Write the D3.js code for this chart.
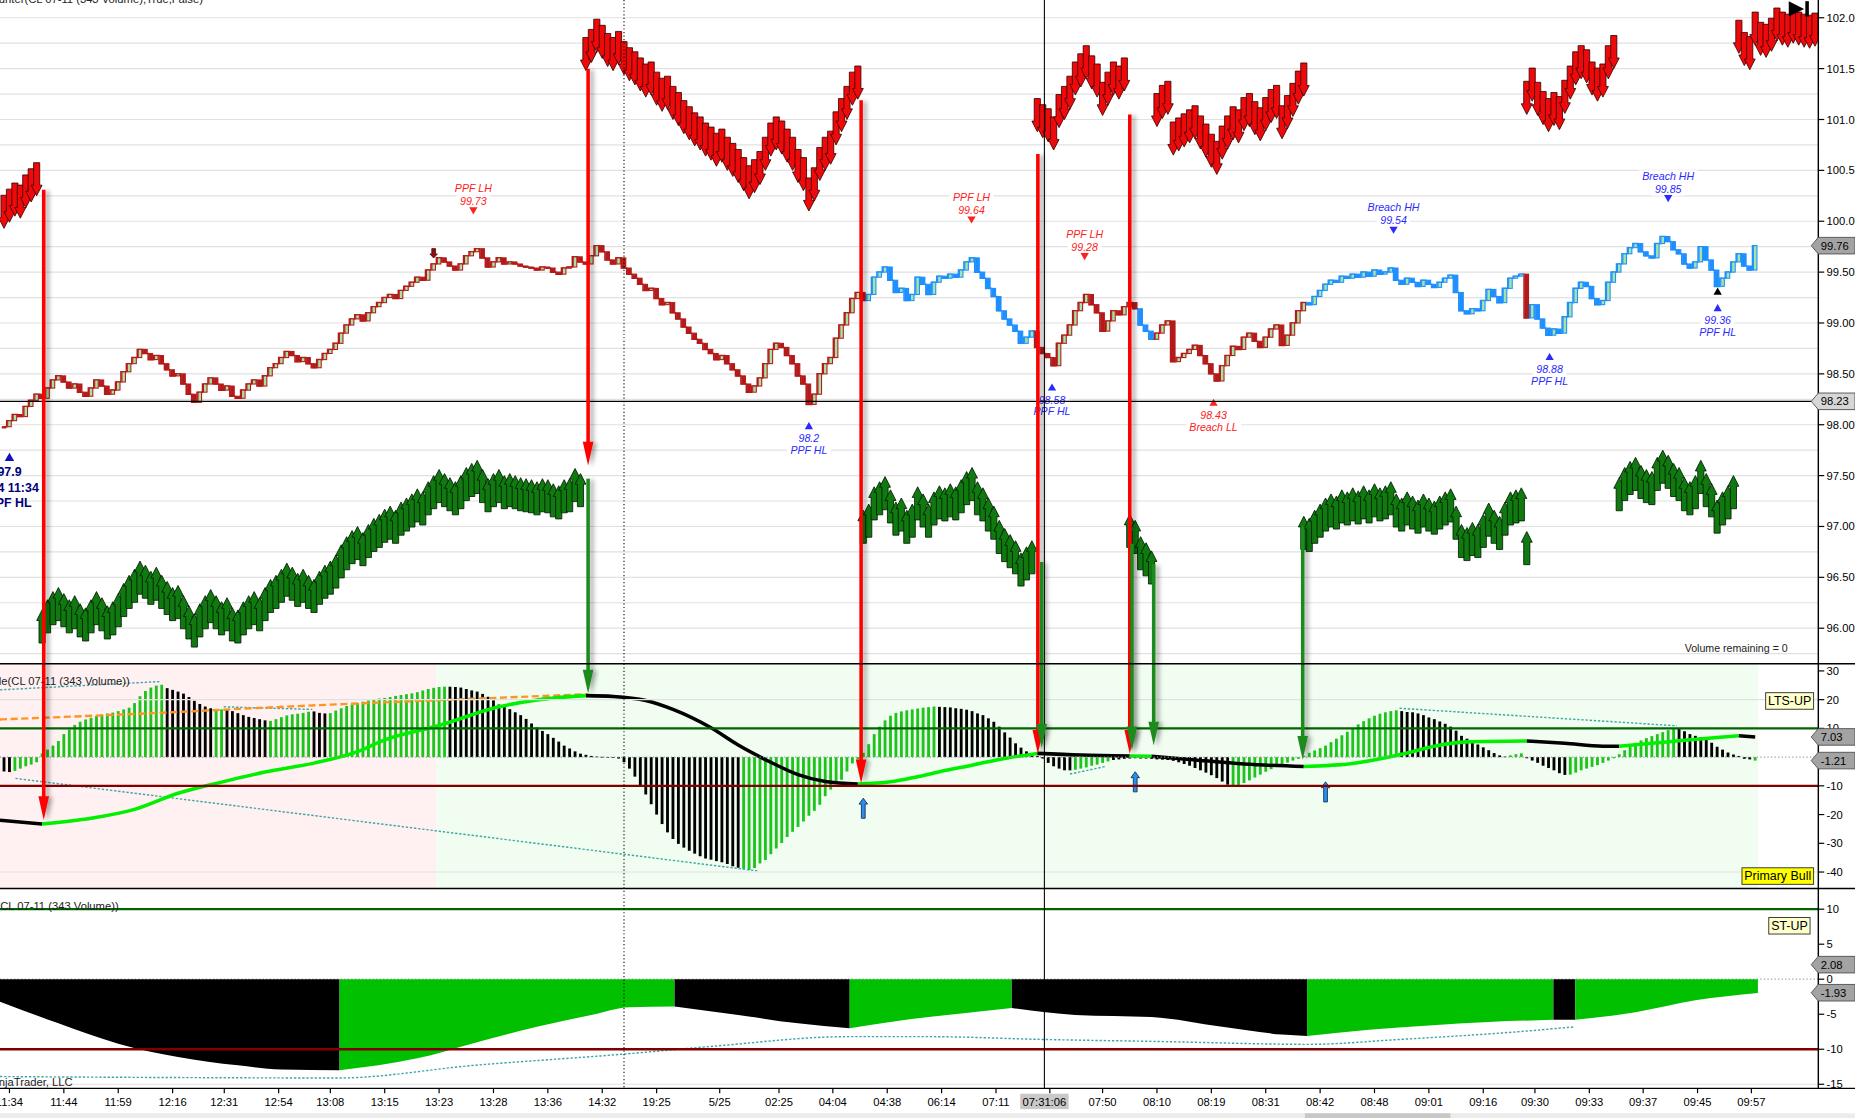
<!DOCTYPE html>
<html>
<head>
<meta charset="utf-8">
<script src="https://cdn.jsdelivr.net/npm/d3@7"></script>
<style>
  html, body { margin: 0; padding: 0; background: #fff; overflow: hidden; }
  svg { display: block; font-family: "Liberation Sans", Arial, sans-serif; }
</style>
</head>
<body>
<div id="chart"></div>
<script>
// ---- data (bar index based) ----
var closes = [
  97.98, 98.04, 98.10, 98.08, 98.18, 98.24, 98.30, 98.26, 98.36, 98.44,
  98.48, 98.42, 98.36, 98.40, 98.32, 98.28, 98.36, 98.44, 98.38, 98.30,
  98.34, 98.42, 98.52, 98.60, 98.66, 98.74, 98.70, 98.64, 98.68, 98.60,
  98.54, 98.48, 98.50, 98.40, 98.30, 98.22, 98.32, 98.40, 98.46, 98.40,
  98.34, 98.38, 98.28, 98.26, 98.34, 98.40, 98.44, 98.38, 98.48, 98.56,
  98.60, 98.66, 98.72, 98.68, 98.62, 98.66, 98.60, 98.56, 98.64, 98.70,
  98.74, 98.80, 98.90, 98.98, 99.04, 99.08, 99.02, 99.10, 99.16, 99.20,
  99.25, 99.28, 99.24, 99.32, 99.36, 99.40, 99.45, 99.42, 99.52, 99.58,
  99.64, 99.60, 99.56, 99.52, 99.58, 99.66, 99.70, 99.73, 99.64, 99.55,
  99.60, 99.64, 99.58, 99.60, 99.58, 99.56, 99.55, 99.54, 99.52, 99.55,
  99.54, 99.50, 99.48, 99.54, 99.55, 99.65, 99.60, 99.58, 99.66, 99.76,
  99.70, 99.62, 99.58, 99.64, 99.54, 99.48, 99.44, 99.38, 99.32, 99.34,
  99.24, 99.18, 99.20, 99.10, 99.04, 98.96, 98.90, 98.84, 98.80, 98.74,
  98.70, 98.64, 98.68, 98.60, 98.54, 98.48, 98.40, 98.32, 98.38, 98.46,
  98.60, 98.74, 98.80, 98.76, 98.68, 98.60, 98.48, 98.40, 98.20, 98.30,
  98.50, 98.60, 98.66, 98.85, 98.98, 99.10, 99.24, 99.30, 99.22, 99.28,
  99.45, 99.50, 99.55, 99.42, 99.30, 99.34, 99.22, 99.28, 99.45, 99.38,
  99.28, 99.40, 99.46, 99.44, 99.48, 99.45, 99.52, 99.60, 99.64, 99.50,
  99.44, 99.34, 99.26, 99.12, 99.04, 98.98, 98.92, 98.80, 98.86, 98.92,
  98.76, 98.70, 98.66, 98.58, 98.80, 98.88, 98.98, 99.12, 99.20, 99.28,
  99.18, 99.10, 98.92, 99.02, 99.12, 99.08, 99.16, 99.20, 99.14, 98.98,
  98.92, 98.84, 98.90, 98.98, 99.02, 98.62, 98.66, 98.70, 98.74, 98.78,
  98.68, 98.60, 98.50, 98.43, 98.58, 98.68, 98.77, 98.74, 98.86, 98.90,
  98.82, 98.76, 98.86, 98.94, 98.98, 98.78, 98.88, 99.00, 99.12, 99.20,
  99.18, 99.26, 99.32, 99.38, 99.42, 99.40, 99.46, 99.44, 99.48, 99.45,
  99.50, 99.46, 99.52, 99.48, 99.50, 99.54, 99.42, 99.38, 99.44, 99.40,
  99.36, 99.42, 99.38, 99.35, 99.40, 99.44, 99.47, 99.30, 99.12, 99.09,
  99.14, 99.12, 99.22, 99.33, 99.26, 99.20, 99.34, 99.44, 99.46, 99.48,
  99.05, 99.18, 99.04, 98.95, 98.88, 98.94, 98.90, 99.06, 99.20, 99.34,
  99.40, 99.36, 99.24, 99.18, 99.22, 99.40, 99.50, 99.58, 99.68, 99.74,
  99.78, 99.70, 99.66, 99.64, 99.78, 99.85, 99.80, 99.72, 99.68, 99.58,
  99.54, 99.60, 99.75, 99.62, 99.52, 99.36, 99.44, 99.50, 99.60, 99.68,
  99.56, 99.52, 99.76
];
// bars right of the last drawn price, only seen through their arrows
var hiddenTail = [99.66, 99.64, 99.70, 99.80, 99.76, 99.74, 99.78, 99.76, 99.74, 99.73, 99.75];

// price bar colouring: [from, to, trend]
var trendRuns = [[0, 158, 'bear'], [159, 189, 'bull'], [190, 208, 'bear'], [209, 211, 'bull'],
                 [212, 239, 'bear'], [240, 279, 'bull'], [280, 280, 'bear'], [281, 322, 'bull']];

// arrow clusters: [from, to (excl.), side, offset in price units]
var arrowRuns = [[0, 7, 'sell', 1.95], [7, 107, 'buy', 2.08], [107, 158, 'sell', 1.9],
                 [158, 190, 'buy', 2.06], [190, 207, 'sell', 2.12], [207, 212, 'buy', 2.08],
                 [212, 240, 'sell', 2.03], [239, 281, 'buy', 2.1], [280, 297, 'sell', 2.0],
                 [297, 319, 'buy', 2.1], [319, 334, 'sell', 1.97]];

var histValues = [
  -5.0, -5.2, -4.8, -4.0, -3.2, -2.6, -1.8, 1.3, 2.6, 4.0,
  5.6, 8.0, 9.6, 11.2, 12.3, 13.1, 13.7, 14.3, 14.8, 15.2,
  15.5, 16.0, 16.6, 17.2, 18.8, 21.2, 23.0, 24.2, 24.9, 25.2,
  24.0, 23.4, 22.8, 22.1, 20.9, 19.6, 18.5, 17.6, 17.0, 16.8,
  16.6, 16.4, 16.0, 15.3, 14.6, 14.0, 13.6, 13.2, 12.8, 12.6,
  13.2, 13.9, 14.5, 14.9, 15.1, 15.4, 15.8, 15.9, 15.4, 15.2,
  15.3, 16.2, 17.0, 17.8, 18.3, 18.8, 19.3, 19.7, 20.1, 20.4,
  20.6, 20.9, 21.3, 21.6, 21.9, 22.2, 22.6, 23.2, 23.7, 24.1,
  24.4, 24.5, 24.5, 24.4, 24.2, 23.7, 23.2, 22.8, 22.0, 21.0,
  19.8, 18.3, 17.7, 16.7, 15.6, 14.6, 13.3, 11.7, 10.3, 9.1,
  8.0, 6.7, 5.4, 4.0, 3.0, 2.0, 1.2, 0.8, 0.4, 0.2,
  0.1, 0.0, 0.0, -0.5, -1.8, -4.0, -6.8, -9.9, -13.0, -16.4,
  -20.0, -23.3, -26.2, -28.5, -30.2, -31.5, -32.6, -33.6, -34.5, -35.3,
  -35.7, -36.2, -36.6, -37.2, -38.0, -38.5, -38.9, -39.3, -38.6, -37.0,
  -35.8, -33.8, -31.8, -29.9, -27.8, -26.0, -24.3, -22.4, -20.4, -18.7,
  -16.6, -13.6, -11.3, -9.2, -7.9, -5.0, -2.2, -0.8, 1.5, 4.5,
  8.0, 10.6, 12.8, 14.4, 15.4, 15.9, 16.3, 16.6, 16.9, 17.2,
  17.4, 17.6, 17.5, 17.4, 17.3, 17.0, 16.8, 16.5, 16.0, 15.2,
  14.6, 13.5, 12.3, 10.6, 8.6, 6.8, 4.8, 3.3, 2.0, 1.0,
  0.4, -0.5, -2.0, -3.2, -4.0, -4.6, -4.6, -4.4, -4.0, -3.6,
  -3.0, -2.6, -2.0, -1.5, -1.0, -0.8, -0.6, -0.5, -0.4, -0.5,
  -0.5, -0.6, -0.8, -0.9, -1.0, -1.3, -1.8, -2.4, -3.0, -3.8,
  -4.6, -5.4, -6.3, -7.3, -8.5, -9.6, -10.0, -9.8, -9.0, -8.1,
  -7.1, -6.1, -5.1, -4.2, -3.4, -2.6, -1.9, -1.2, -0.6, 0.5,
  1.5, 2.3, 3.1, 4.0, 5.2, 6.4, 7.6, 8.8, 10.1, 11.4,
  12.5, 13.5, 14.4, 15.1, 15.6, 16.0, 16.3, 16.0, 15.7, 15.6,
  15.2, 14.6, 13.8, 13.2, 12.4, 11.6, 10.6, 9.2, 7.4, 6.4,
  5.4, 4.4, 3.4, 2.4, 1.4, 0.6, 0.2, 0.6, 1.0, 1.3,
  -0.4, -1.2, -2.0, -3.0, -3.8, -4.6, -5.6, -6.2, -6.1, -5.4,
  -4.6, -4.0, -3.4, -2.8, -2.0, -1.2, -0.4, 1.0, 2.4, 3.8,
  4.8, 5.8, 6.6, 7.3, 8.0, 8.7, 9.4, 10.0, 10.1, 9.0,
  8.0, 7.4, 6.9, 6.4, 5.0, 3.6, 2.6, 1.6, 0.9, 0.4,
  -0.6, -0.8, -1.21
];
// histogram colour changes: [from index, state]
var histRuns = [[0, 'down'], [2, 'up'], [30, 'down'], [39, 'up'], [41, 'down'], [49, 'up'],
                [57, 'down'], [60, 'up'], [82, 'down'], [136, 'up'], [172, 'down'], [197, 'up'],
                [204, 'down'], [226, 'up'], [257, 'down'], [277, 'up'], [280, 'down'], [288, 'up'],
                [308, 'down'], [322, 'up']];

// slow line of the oscillator: [index, value]
var lineKnots = [[-0.75, -22.0], [7, -23.3], [16, -21.3], [24, -18.2], [32, -12.6], [40, -8.7],
  [48, -5.2], [57, -2.1], [65, 1.9], [70, 6.0], [80, 11.0], [91, 17.5], [98, 19.9], [107, 21.4],
  [112, 21.1], [118, 19.7], [123, 16.6], [130, 10.2], [135, 4.2], [141, -1.8], [146, -6.1],
  [151, -8.5], [157, -9.4], [163, -8.6], [168, -6.8], [173, -4.7], [178, -2.8], [183, -0.8],
  [190, 1.3], [198, 0.7], [207, 0.4], [211, 0.3], [218, -0.8], [228, -2.4], [239, -3.3],
  [248, -2.2], [258, 1.4], [263, 3.8], [269, 5.3], [280, 5.6], [287, 4.8], [294, 3.8],
  [297, 3.8], [303, 4.8], [309, 5.9], [315, 6.8], [319, 7.4], [322, 7.03]];
var lineRuns = [[-0.75, 7, 'down'], [7, 107, 'up'], [107, 157, 'down'], [157, 190, 'up'],
  [190, 207, 'down'], [207, 211, 'up'], [211, 239, 'down'], [239, 280, 'up'], [280, 297, 'down'],
  [297, 319, 'up'], [319, 322, 'down']];

var orangeKnots = [[-0.75, 13.1], [27.3, 15.3], [55.6, 17.9], [83.7, 20.1], [107.4, 21.9]];
var oscTrendLines = [[[-0.75, 23.4], [28.8, 26.3]], [[40.4, 17.5], [56.7, 16.6]],
  [[2.1, -7.4], [138.5, -39.6]], [[196, -5.9], [202.7, -3.2]], [[256.6, 17.0], [307.6, 10.9]]];
var oscBuyMarks = [[158, -14.3], [208, -5.1], [243, -8.6]];
var oscRegimes = [[-0.75, 79.5, 'bear'], [79.5, 322.5, 'bull']];

// short-term panel
var stKnots = [[-0.75, -3.2], [10, -6.3], [21, -9.2], [32, -11.1], [43, -12.3], [51, -12.9],
  [61.7, -13.0], [76, -11.3], [86, -9.2], [98, -6.8], [108, -5.1], [115, -4.0], [123.3, -3.9],
  [135, -5.1], [146, -6.3], [155.5, -7.0], [163, -6.1], [170, -5.4], [176, -4.9], [185.3, -4.1],
  [197, -5.1], [211, -5.4], [224, -6.8], [235, -7.9], [239.6, -8.1], [251, -7.2], [262, -6.6],
  [273, -6.1], [284.9, -5.8], [288.9, -5.8], [300, -4.7], [311, -3.0], [322.5, -1.96]];
var stRuns = [[-0.75, 61.7, 'down'], [61.7, 123.3, 'up'], [123.3, 155.5, 'down'], [155.5, 185.3, 'up'],
  [185.3, 239.6, 'down'], [239.6, 284.9, 'up'], [284.9, 288.9, 'down'], [288.9, 322.5, 'up']];
var stTrend = [[-0.75, -13.9], [61.5, -14.1], [86.4, -12.3], [113.8, -10.7], [130, -9.6],
  [155.2, -8.2], [170, -8.2], [191, -8.6], [212.9, -8.9], [239.8, -9.3], [256.6, -8.6],
  [278.4, -7.5], [288.8, -6.8]];

// long signal arrows
var signalArrows = [
  {i: 7.3, kind: 'sell', from: 100.31, toPanel: 'osc', to: -21.9},
  {i: 107.4, kind: 'sell', from: 101.5, toPanel: 'price', to: 97.6},
  {i: 157.6, kind: 'sell', from: 101.19, toPanel: 'osc', to: -9.1},
  {i: 190.1, kind: 'sell', from: 100.66, toPanel: 'osc', to: 1.2},
  {i: 207, kind: 'sell', from: 101.05, toPanel: 'osc', to: 1.2},
  {i: 107.4, kind: 'buy', from: 97.47, toPanel: 'osc', to: 22.2},
  {i: 190.8, kind: 'buy', from: 96.65, toPanel: 'osc', to: 3.3},
  {i: 207.4, kind: 'buy', from: 96.83, toPanel: 'osc', to: 2.4},
  {i: 211.4, kind: 'buy', from: 96.63, toPanel: 'osc', to: 4.1},
  {i: 238.8, kind: 'buy', from: 97.0, toPanel: 'osc', to: -0.9}
];

var swingLabels = [
  {i: 86.3, price: 99.73, text: 'PPF LH', kind: 'LH'},
  {i: 177.9, price: 99.64, text: 'PPF LH', kind: 'LH'},
  {i: 198.7, price: 99.28, text: 'PPF LH', kind: 'LH'},
  {i: 255.5, price: 99.54, text: 'Breach HH', kind: 'HH'},
  {i: 306, price: 99.85, text: 'Breach HH', kind: 'HH'},
  {i: 148, price: 98.2, text: 'PPF HL', kind: 'HL'},
  {i: 192.7, price: 98.58, text: 'PPF HL', kind: 'HL'},
  {i: 222.4, price: 98.43, text: 'Breach LL', kind: 'LL'},
  {i: 284.2, price: 98.88, text: 'PPF HL', kind: 'HL'},
  {i: 315.1, price: 99.36, text: 'PPF HL', kind: 'HL'}
];
var firstSwing = {i: 1, price: 97.9, lines: ['97.9', '5/24  11:34', 'PPF HL']};
var swingDots = [[315.1, 99.36]];
var smallSellMarks = [[79, 99.58]];

var tickIdx = [1, 11, 21, 31, 40.5, 50.5, 60, 70, 80, 90, 100, 110, 120, 131.6, 142.5, 152.4,
  162.4, 172.4, 182.4, 192.3, 202, 212, 222, 232, 242, 252, 262, 272, 281.5, 291.5, 301.4,
  311.4, 321.3];
var tickLabels = ['11:34', '11:44', '11:59', '12:16', '12:31', '12:54', '13:08', '13:15', '13:23',
  '13:28', '13:36', '14:32', '19:25', '5/25', '02:25', '04:04', '04:38', '06:14', '07:11', null,
  '07:50', '08:10', '08:19', '08:31', '08:42', '08:48', '09:01', '09:16', '09:30', '09:33',
  '09:37', '09:45', '09:57'];
var crosshair = {i: 191.3, price: 98.23, label: '07:31:06'};
var sessionBreak = 114;

var priceTicks = [102, 101.5, 101, 100.5, 100, 99.5, 99, 98.5, 98, 97.5, 97, 96.5, 96];
var oscTicks = [30, 20, 10, 0, -10, -20, -30, -40];
var stTicks = [10, 5, 0, -5, -10, -15];
var priceMarkers = [[99.76, 'last'], [98.23, 'cross']];
var oscMarkers = [7.03, -1.21];
var stMarkers = [2.08, -1.93];

// ---- layout (drawn in a 1568x945 frame, scaled to the window) ----
var W = 1568, H = 945, axisX = 1537;
var pTop = 0, pBot = 561, oBot = 751, sBot = 920;
var N = closes.length, step = 4.597, x0 = 1.1;

var svg = d3.select('#chart').append('svg')
    .attr('width', 1855).attr('height', 1118)
    .attr('viewBox', '0 0 ' + W + ' ' + H);

var x = d3.scaleLinear().domain([0, N - 1]).range([x0 + step / 2, x0 + (N - 0.5) * step]);
var yP = d3.scaleLinear().domain([96, 102]).range([531, 15]);
var yO = d3.scaleLinear().domain([-40, 30]).range([737.1, 567.1]);
var yS = d3.scaleLinear().domain([-15, 10]).range([916.5, 768.5]);

var defs = svg.append('defs');
function clip(id, y0, y1) {
  defs.append('clipPath').attr('id', id).append('rect')
    .attr('x', 0).attr('y', y0).attr('width', axisX).attr('height', y1 - y0);
}
clip('clipP', pTop, pBot); clip('clipO', pBot, oBot); clip('clipS', oBot, sBot); clip('clipAll', 0, sBot);
defs.append('filter').attr('id', 'shadow').attr('x', '-300%').attr('y', '-5%')
    .attr('width', '700%').attr('height', '110%')
  .append('feDropShadow').attr('dx', 3).attr('dy', 1).attr('stdDeviation', 1.6)
    .attr('flood-color', '#000').attr('flood-opacity', 0.35);

svg.append('rect').attr('width', W).attr('height', H).attr('fill', '#fff');

function runState(runs, i) {
  var s = runs[0][1];
  runs.forEach(function (r) { if (i >= r[0]) s = r[1]; });
  return s;
}
function trendAt(i) {
  var t = 'bull';
  trendRuns.forEach(function (r) { if (i >= r[0] && i <= r[1]) t = r[2]; });
  return t;
}
var trendColor = {bull: '#1e8fff', bear: '#b41a1a'};

// ---- oscillator panel background ----
var gO = svg.append('g').attr('clip-path', 'url(#clipO)');
gO.selectAll('rect.reg').data(oscRegimes).join('rect').attr('class', 'reg')
  .attr('x', function (d) { return Math.max(0, x(d[0])); })
  .attr('width', function (d) { return x(d[1]) - Math.max(0, x(d[0])); })
  .attr('y', pBot).attr('height', oBot - pBot)
  .attr('fill', function (d) { return d[2] === 'bear' ? '#fff1f1' : '#f1fdf1'; });

// ---- grid ----
var grid = svg.append('g').attr('stroke', '#e1e1e1').attr('stroke-width', 1);
d3.range(95.75, 102.01, 0.25).forEach(function (v) {
  grid.append('line').attr('x1', 0).attr('x2', axisX).attr('y1', yP(v)).attr('y2', yP(v));
});
[20, -40].forEach(function (v) {
  grid.append('line').attr('x1', 0).attr('x2', axisX).attr('y1', yO(v)).attr('y2', yO(v));
});
grid.append('line').attr('x1', 0).attr('x2', axisX).attr('y1', yS(-15)).attr('y2', yS(-15));

// level lines
function level(y, col, w, dash) {
  svg.append('line').attr('x1', 0).attr('x2', axisX).attr('y1', y).attr('y2', y)
    .attr('stroke', col).attr('stroke-width', w).attr('stroke-dasharray', dash || null);
}
level(yO(0), '#999', 1, '1,2');
level(yS(0), '#999', 1, '1,2');

// ---- histogram ----
gO.selectAll('rect.hist').data(histValues).join('rect').attr('class', 'hist')
  .attr('x', function (d, i) { return x(i) - 1.2; }).attr('width', 2.4)
  .attr('y', function (d) { return Math.min(yO(d), yO(0)); })
  .attr('height', function (d) { return Math.max(0.6, Math.abs(yO(d) - yO(0))); })
  .attr('fill', function (d, i) { return runState(histRuns, i) === 'up' ? '#1cc41c' : '#000'; });

level(yO(10), '#006400', 2);
level(yO(-10), '#800000', 2);

var lineGen = d3.line().x(function (d) { return x(d[0]); });
gO.selectAll('path.trend').data(oscTrendLines).join('path').attr('class', 'trend')
  .attr('d', lineGen.y(function (d) { return yO(d[1]); }))
  .attr('fill', 'none').attr('stroke', '#3fa7a7').attr('stroke-width', 1.2).attr('stroke-dasharray', '2,1.5');

gO.append('path').datum(orangeKnots)
  .attr('d', d3.line().x(function (d) { return x(d[0]); }).y(function (d) { return yO(d[1]); }).curve(d3.curveMonotoneX))
  .attr('fill', 'none').attr('stroke', '#ff9520').attr('stroke-width', 2).attr('stroke-dasharray', '6,3');

var smooth = d3.line().x(function (d) { return x(d[0]); }).y(function (d) { return yO(d[1]); }).curve(d3.curveMonotoneX);
lineRuns.forEach(function (r) {
  var pts = lineKnots.filter(function (k) { return k[0] >= r[0] && k[0] <= r[1]; });
  gO.append('path').datum(pts).attr('d', smooth).attr('fill', 'none')
    .attr('stroke', r[2] === 'up' ? '#00f000' : '#000').attr('stroke-width', 3);
});

// small blue buy marks
oscBuyMarks.forEach(function (m) {
  var cx = x(m[0]), ty = yO(m[1]);
  gO.append('path')
    .attr('d', 'M' + (cx - 1.6) + ',' + (ty + 17) + 'V' + (ty + 5) + 'H' + (cx - 3.6) + 'L' + cx + ',' + ty +
      'L' + (cx + 3.6) + ',' + (ty + 5) + 'H' + (cx + 1.6) + 'V' + (ty + 17) + 'Z')
    .attr('fill', '#2a8fe8').attr('stroke', '#0a2a55').attr('stroke-width', 0.7);
});

// ---- short-term panel ----
var gS = svg.append('g').attr('clip-path', 'url(#clipS)');
var stArea = d3.area().x(function (d) { return x(d[0]); }).y0(yS(0)).y1(function (d) { return yS(d[1]); })
  .curve(d3.curveMonotoneX);
stRuns.forEach(function (r) {
  var pts = stKnots.filter(function (k) { return k[0] >= r[0] && k[0] <= r[1]; });
  gS.append('path').datum(pts).attr('d', stArea)
    .attr('fill', r[2] === 'up' ? '#00c000' : '#000');
});
gS.append('path').datum(stTrend)
  .attr('d', d3.line().x(function (d) { return x(d[0]); }).y(function (d) { return yS(d[1]); }).curve(d3.curveMonotoneX))
  .attr('fill', 'none').attr('stroke', '#3fa7a7').attr('stroke-width', 1.2).attr('stroke-dasharray', '2,1.5');
level(yS(10), '#006400', 2);
level(yS(-10), '#800000', 2);

// ---- price panel ----
var gP = svg.append('g').attr('clip-path', 'url(#clipP)');
// stepped close line per trend run, then the bar bodies on top
var stepLine = d3.line().x(function (d) { return x(d[0]); }).y(function (d) { return yP(d[1]); }).curve(d3.curveStep);
trendRuns.forEach(function (r) {
  var pts = d3.range(Math.max(0, r[0] - 1), r[1] + 1).map(function (i) { return [i, closes[i]]; });
  gP.append('path').datum(pts).attr('d', stepLine).attr('fill', 'none')
    .attr('stroke', trendColor[r[2]]).attr('stroke-width', 1.3);
});
gP.selectAll('rect.bar').data(closes).join('rect').attr('class', 'bar')
  .each(function (c, i) {
    var o = i > 0 ? closes[i - 1] : c;
    var col = trendColor[trendAt(i)];
    var yt = yP(Math.max(o, c)), yb = yP(Math.min(o, c));
    d3.select(this).attr('x', x(i) - 1.5).attr('width', 3)
      .attr('y', yt).attr('height', Math.max(1, yb - yt))
      .attr('fill', c > o ? '#a3e6a3' : col).attr('stroke', col).attr('stroke-width', 0.9);
  });

function blockArrow(cx, tip, dir, L, hw, sw, hl) {
  var base = tip - dir * L, neck = tip - dir * hl;
  return 'M' + (cx - sw) + ',' + base + 'L' + (cx + sw) + ',' + base + 'L' + (cx + sw) + ',' + neck +
    'L' + (cx + hw) + ',' + neck + 'L' + cx + ',' + tip + 'L' + (cx - hw) + ',' + neck +
    'L' + (cx - sw) + ',' + neck + 'Z';
}
var barsForArrows = closes.concat(hiddenTail);
var gA = svg.append('g').attr('clip-path', 'url(#clipP)');
arrowRuns.forEach(function (r) {
  d3.range(r[0], r[1]).forEach(function (i) {
    var p = barsForArrows[i];
    if (p === undefined) return;
    var sell = r[2] === 'sell';
    var tip = sell ? yP(p + r[3]) : yP(p - r[3]);
    gA.append('path').attr('d', blockArrow(x(i), tip, sell ? 1 : -1, 28, 4.6, 2.6, 9))
      .attr('fill', sell ? '#ee0a0a' : '#107a10')
      .attr('stroke', sell ? '#3a0000' : '#001a00').attr('stroke-width', 0.7);
  });
});

smallSellMarks.forEach(function (m) {
  var tip = yP(m[1]) - 5;
  gA.append('path').attr('d', blockArrow(x(m[0]), tip, 1, 8, 3.2, 1.6, 3.5))
    .attr('fill', '#8b1010').attr('stroke', '#400').attr('stroke-width', 0.6);
});

// swing annotations
var kindColor = {LH: '#ff2020', LL: '#ff2020', HH: '#2a2aff', HL: '#2a2aff'};
var gL = svg.append('g').attr('clip-path', 'url(#clipP)')
  .attr('font-size', 9).attr('font-style', 'italic').attr('text-anchor', 'middle');
function labelText(g, tx, ty, str, col) {
  var t = g.append('text').attr('x', tx).attr('y', ty).attr('fill', col).text(str);
  var w = t.node().getComputedTextLength();
  g.insert('rect', 'text').attr('x', tx - w / 2 - 3).attr('y', ty - 8).attr('width', w + 6)
    .attr('height', 10.5).attr('fill', '#fff');
}
swingLabels.forEach(function (s) {
  var cx = x(s.i), py = yP(s.price), col = kindColor[s.kind];
  var high = s.kind === 'LH' || s.kind === 'HH';
  var g = gL.append('g');
  if (high) {
    labelText(g, cx, py - 48, s.text, col);
    labelText(g, cx, py - 37, String(s.price), col);
    g.append('path').attr('d', 'M' + (cx - 3.5) + ',' + (py - 35) + 'H' + (cx + 3.5) + 'L' + cx + ',' + (py - 29) + 'Z')
      .attr('fill', col);
  } else {
    g.append('path').attr('d', 'M' + (cx - 3.5) + ',' + (py + 21) + 'H' + (cx + 3.5) + 'L' + cx + ',' + (py + 15) + 'Z')
      .attr('fill', col);
    labelText(g, cx, py + 32, String(s.price), col);
    labelText(g, cx, py + 42, s.text, col);
  }
});
swingDots.forEach(function (d) {
  var cx = x(d[0]), py = yP(d[1]);
  gL.append('path').attr('d', 'M' + (cx - 3.5) + ',' + (py + 7) + 'H' + (cx + 3.5) + 'L' + cx + ',' + (py + 1) + 'Z')
    .attr('fill', '#000');
});
(function () {
  var cx = x(firstSwing.i), py = yP(firstSwing.price);
  var g = gL.append('g').attr('font-style', 'normal').attr('font-weight', 'bold').attr('font-size', 10.5).attr('fill', '#00007a');
  g.append('path').attr('d', 'M' + (cx - 4) + ',' + (py + 22) + 'H' + (cx + 4) + 'L' + cx + ',' + (py + 15) + 'Z')
    .attr('fill', '#1010c0');
  firstSwing.lines.forEach(function (s, k) {
    g.append('text').attr('x', cx).attr('y', py + 35 + k * 13).text(s);
  });
})();

// crosshair and session break
svg.append('line').attr('x1', 0).attr('x2', axisX).attr('y1', yP(crosshair.price)).attr('y2', yP(crosshair.price))
  .attr('stroke', '#000').attr('stroke-width', 1);
svg.append('line').attr('x1', x(crosshair.i)).attr('x2', x(crosshair.i)).attr('y1', 0).attr('y2', sBot)
  .attr('stroke', '#000').attr('stroke-width', 0.9);
svg.append('line').attr('x1', x(sessionBreak)).attr('x2', x(sessionBreak)).attr('y1', 0).attr('y2', sBot)
  .attr('stroke', '#000').attr('stroke-width', 0.9).attr('stroke-dasharray', '1,2');

// long signal arrows
var gSig = svg.append('g').attr('clip-path', 'url(#clipAll)');
signalArrows.forEach(function (s) {
  var cx = x(s.i), y1 = yP(s.from);
  var y2 = s.toPanel === 'osc' ? yO(s.to) : yP(s.to);
  var col = s.kind === 'sell' ? '#ff0000' : '#1c8a1c';
  var g = gSig.append('g').attr('filter', 'url(#shadow)');
  g.append('line').attr('x1', cx).attr('x2', cx).attr('y1', y1).attr('y2', y2 - 12)
    .attr('stroke', col).attr('stroke-width', 3);
  g.append('path').attr('d', 'M' + (cx - 4.5) + ',' + (y2 - 20) + 'L' + (cx + 4.5) + ',' + (y2 - 20) + 'L' + cx + ',' + y2 + 'Z')
    .attr('fill', col);
});

// ---- frame, axes ----
[pBot, oBot, sBot].forEach(function (y) {
  svg.append('line').attr('x1', 0).attr('x2', W).attr('y1', y).attr('y2', y).attr('stroke', '#000').attr('stroke-width', 1.2);
});
svg.append('line').attr('x1', axisX).attr('x2', axisX).attr('y1', 0).attr('y2', sBot).attr('stroke', '#000').attr('stroke-width', 1.2);

var gAx = svg.append('g').attr('font-size', 9.5).attr('fill', '#000');
function yTicks(vals, scale, fmt) {
  vals.forEach(function (v) {
    var y = scale(v);
    gAx.append('line').attr('x1', axisX).attr('x2', axisX + 5).attr('y1', y).attr('y2', y).attr('stroke', '#000');
    gAx.append('text').attr('x', axisX + 7).attr('y', y + 3.4).text(fmt(v));
  });
}
yTicks(priceTicks, yP, d3.format('.2f'));
yTicks(oscTicks, yO, function (v) { return String(v); });
yTicks(stTicks, yS, function (v) { return String(v); });

tickIdx.forEach(function (ti, k) {
  var tx = x(ti);
  gAx.append('line').attr('x1', tx).attr('x2', tx).attr('y1', sBot).attr('y2', sBot + 4).attr('stroke', '#000');
  if (tickLabels[k]) gAx.append('text').attr('x', tx).attr('y', 934.5).attr('text-anchor', 'middle').text(tickLabels[k]);
});
(function () {
  var cx = x(crosshair.i);
  var t = gAx.append('text').attr('x', cx).attr('y', 934.5).attr('text-anchor', 'middle').text(crosshair.label);
  var w = t.node().getComputedTextLength();
  gAx.insert('rect', 'text').attr('x', cx - w / 2 - 2).attr('y', 924.5).attr('width', w + 4).attr('height', 13).attr('fill', '#c9c9c9');
})();

function marker(y, str, fill) {
  gAx.append('path').attr('d', 'M' + (axisX - 6) + ',' + y + 'L' + axisX + ',' + (y - 7) + 'H' + W + 'V' + (y + 7) + 'H' + axisX + 'Z')
    .attr('fill', fill).attr('stroke', '#555').attr('stroke-width', 0.8);
  gAx.append('text').attr('x', axisX + 2).attr('y', y + 3.5).text(str);
}
priceMarkers.forEach(function (m) { marker(yP(m[0]), d3.format('.2f')(m[0]), m[1] === 'cross' ? '#d6d6d6' : '#a3a3a3'); });
oscMarkers.forEach(function (v) { marker(yO(v), String(v), '#a3a3a3'); });
stMarkers.forEach(function (v) { marker(yS(v), String(v), '#a3a3a3'); });

// scroll strip
svg.append('rect').attr('x', 0).attr('y', 941).attr('width', W).attr('height', 4).attr('fill', '#ececec');
svg.append('rect').attr('x', 1103).attr('y', 941).attr('width', 123).attr('height', 4).attr('fill', '#c8c8c8');

// ---- texts and boxes ----
var gT = svg.append('g').attr('font-size', 9.5).attr('fill', '#222');
gT.append('text').attr('x', -1).attr('y', 2.5).text('unter(CL 07-11 (343 Volume),True,False)');
gT.append('text').attr('x', -1).attr('y', 579).text('le(CL 07-11 (343 Volume))');
gT.append('text').attr('x', -3).attr('y', 769.5).text('(CL 07-11 (343 Volume))');
gT.append('text').attr('x', -1).attr('y', 918).text('njaTrader, LLC');
gT.append('text').attr('x', 1424).attr('y', 551).attr('font-size', 9).text('Volume remaining = 0');

function tagBox(xr, yc, str, fill) {
  var t = gT.append('text').attr('x', xr - 2).attr('y', yc + 3.6).attr('text-anchor', 'end')
    .attr('font-size', 10.5).attr('fill', '#000').text(str);
  var w = t.node().getComputedTextLength();
  gT.insert('rect', 'text').attr('x', xr - w - 4).attr('y', yc - 7).attr('width', w + 4).attr('height', 14)
    .attr('fill', fill).attr('stroke', '#333').attr('stroke-width', 0.8);
}
tagBox(1533, 592.5, 'LTS-UP', '#ffffcc');
tagBox(1533, 740.5, 'Primary Bull', '#ffff00');
tagBox(1530, 782.5, 'ST-UP', '#ffffcc');

// jump-to-end glyph
svg.append('path').attr('d', 'M1512,1 L1525,7.5 L1512,14 Z').attr('fill', '#000');
svg.append('rect').attr('x', 1526).attr('y', 1).attr('width', 3).attr('height', 13).attr('fill', '#000');
</script>
</body>
</html>
